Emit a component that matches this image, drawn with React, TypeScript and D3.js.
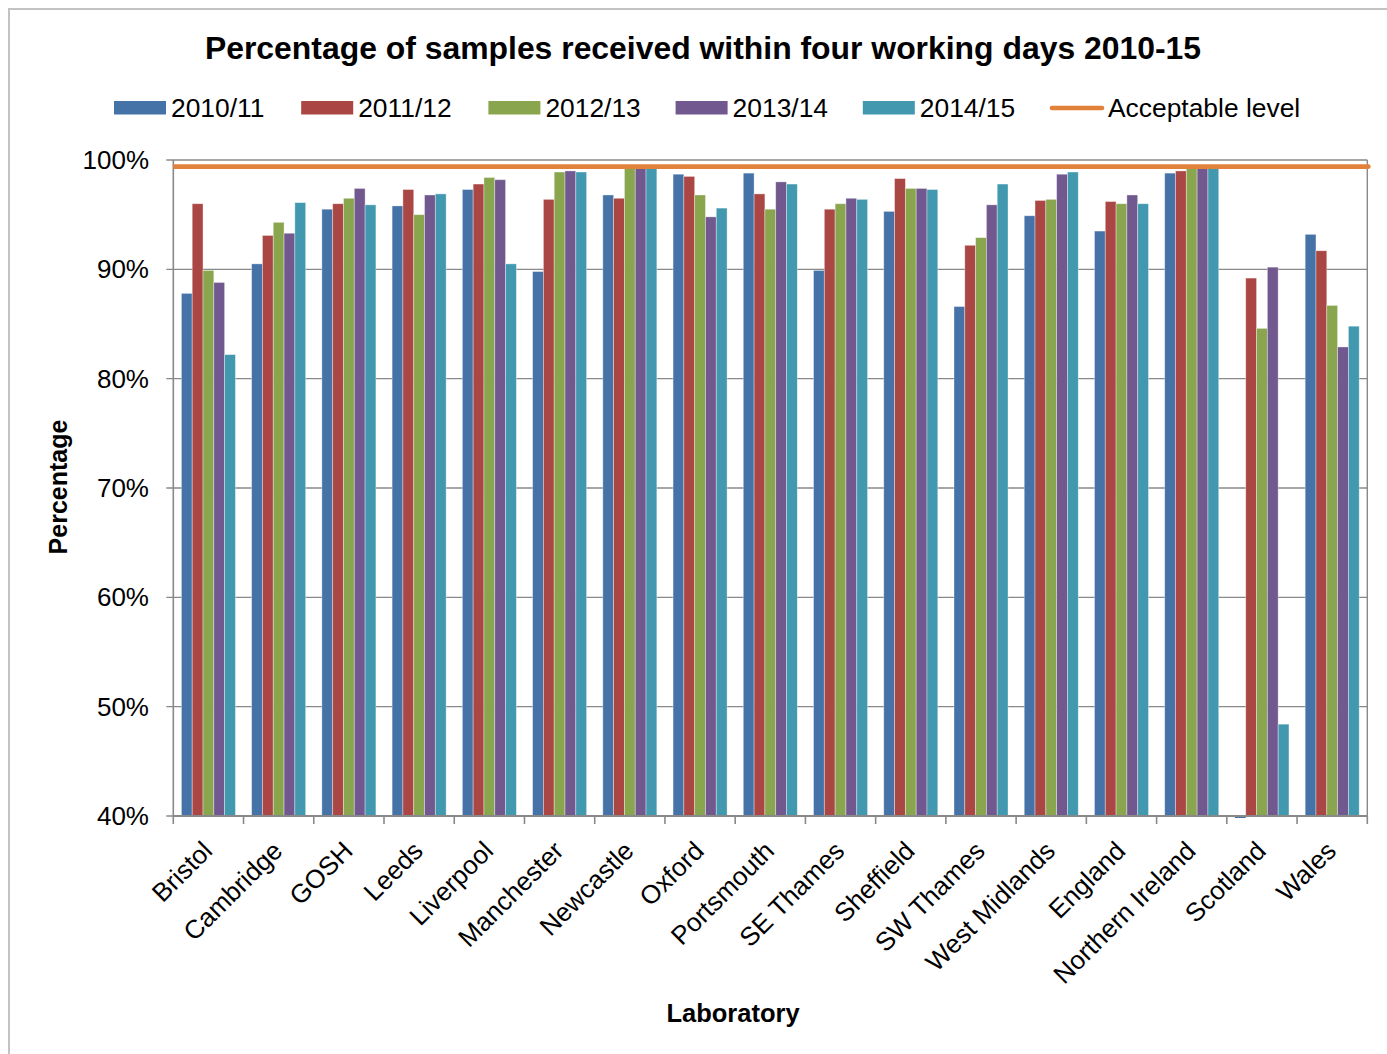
import React from "react";
import * as d3 from "d3";

// Laboratories (x categories)
const categories = [
  "Bristol",
  "Cambridge",
  "GOSH",
  "Leeds",
  "Liverpool",
  "Manchester",
  "Newcastle",
  "Oxford",
  "Portsmouth",
  "SE Thames",
  "Sheffield",
  "SW Thames",
  "West Midlands",
  "England",
  "Northern Ireland",
  "Scotland",
  "Wales",
];

// Financial years (series)
const seriesNames = ["2010/11", "2011/12", "2012/13", "2013/14", "2014/15"];

// Percentage received within four working days, per laboratory
const values2010 = [87.8, 90.5, 95.5, 95.8, 97.3, 89.8, 96.8, 98.7, 98.8, 89.9, 95.3, 86.6, 94.9, 93.5, 98.8, 0, 93.2];
const values2011 = [96.0, 93.1, 96.0, 97.3, 97.8, 96.4, 96.5, 98.5, 96.9, 95.5, 98.3, 92.2, 96.3, 96.2, 99.0, 89.2, 91.7];
const values2012 = [89.9, 94.3, 96.5, 95.0, 98.4, 98.9, 99.5, 96.8, 95.5, 96.0, 97.4, 92.9, 96.4, 96.0, 99.5, 84.6, 86.7];
const values2013 = [88.8, 93.3, 97.4, 96.8, 98.2, 99.0, 99.5, 94.8, 98.0, 96.5, 97.4, 95.9, 98.7, 96.8, 99.5, 90.2, 82.9];
const values2014 = [82.2, 96.1, 95.9, 96.9, 90.5, 98.9, 99.5, 95.6, 97.8, 96.4, 97.3, 97.8, 98.9, 96.0, 99.5, 48.4, 84.8];

const acceptableLevel = 99.4;
const acceptableLabel = "Acceptable level";

const yTicks = [40, 50, 60, 70, 80, 90, 100];

const seriesColors = ["#4572A7", "#AA4643", "#89A54E", "#71588F", "#4198AF"];
const lineColor = "#E2813A";

const FONT = "'Liberation Sans', Arial, sans-serif";
const GRID = "#898989";

export default function App() {
  const W = 1387;
  const H = 1054;
  const left = 173.3;
  const right = 1367.3;
  const top = 160;
  const bottom = 816;

  const seriesValues = [values2010, values2011, values2012, values2013, values2014];

  const x = d3.scaleBand<string>().domain(categories).range([left, right]).padding(0);
  const y = d3.scaleLinear().domain([40, 100]).range([bottom, top]);

  const step = x.step();
  const barW = step / 6.5; // 150% gap width
  const inner = d3
    .scaleBand<string>()
    .domain(seriesNames)
    .range([0.75 * barW, 5.75 * barW])
    .padding(0);

  // legend layout
  const legendX0 = 114;
  const legendStep = 187.2;
  const legendY = 101;

  return (
    <svg
      width={W}
      height={H}
      style={{ position: "absolute", left: 0, top: 0, background: "#fff" }}
      fontFamily={FONT}
    >
      <rect x={9} y={9} width={1420} height={1100} fill="#fff" stroke="#c3c3c3" strokeWidth={2} />

      {/* Title */}
      <text x={703} y={59} textAnchor="middle" fontSize={31.9} fontWeight="bold" fill="#000">
        Percentage of samples received within four working days 2010-15
      </text>

      {/* Legend */}
      {seriesNames.map((name, i) => (
        <g key={name}>
          <rect x={legendX0 + i * legendStep} y={legendY} width={52} height={13.5} fill={seriesColors[i]} />
          <text x={legendX0 + i * legendStep + 57} y={117} fontSize={26.4} fill="#000">
            {name}
          </text>
        </g>
      ))}
      <line
        x1={legendX0 + 5 * legendStep + 2}
        x2={legendX0 + 5 * legendStep + 52}
        y1={108}
        y2={108}
        stroke={lineColor}
        strokeWidth={4.7}
        strokeLinecap="round"
      />
      <text x={legendX0 + 5 * legendStep + 58} y={117} fontSize={26.4} fill="#000">
        {acceptableLabel}
      </text>

      {/* Gridlines */}
      {yTicks.map((t) => (
        <line key={t} x1={left - 7} x2={right} y1={y(t)} y2={y(t)} stroke={GRID} strokeWidth={1.4} />
      ))}
      {/* plot area right edge */}
      <line x1={right} x2={right} y1={top} y2={bottom} stroke={GRID} strokeWidth={1.4} />

      {/* Y tick labels */}
      {yTicks.map((t) => (
        <text key={t} x={149} y={y(t) + 9} textAnchor="end" fontSize={26} fill="#000">
          {`${t}%`}
        </text>
      ))}

      {/* Bars */}
      {seriesNames.map((name, si) =>
        categories.map((cat, ci) => {
          const v = seriesValues[si][ci];
          const bx = (x(cat) as number) + (inner(name) as number);
          const bw = inner.bandwidth();
          if (v < 40) {
            return (
              <rect key={`${name}-${cat}`} x={bx} y={bottom} width={bw} height={2} fill={seriesColors[si]} />
            );
          }
          return (
            <rect
              key={`${name}-${cat}`}
              x={bx}
              y={y(v)}
              width={bw}
              height={bottom - y(v)}
              fill={seriesColors[si]}
              stroke="#ffffff"
              strokeOpacity={0.45}
              strokeWidth={0.8}
            />
          );
        })
      )}

      {/* Axes */}
      <line x1={left} x2={left} y1={top} y2={bottom} stroke={GRID} strokeWidth={1.6} />
      <line x1={left} x2={right} y1={bottom} y2={bottom} stroke={GRID} strokeWidth={1.8} />
      {d3.range(categories.length + 1).map((i) => (
        <line
          key={i}
          x1={left + i * step}
          x2={left + i * step}
          y1={bottom}
          y2={bottom + 8}
          stroke={GRID}
          strokeWidth={1.6}
        />
      ))}

      {/* Acceptable level line */}
      <line
        x1={left}
        x2={right + 1}
        y1={y(acceptableLevel)}
        y2={y(acceptableLevel)}
        stroke={lineColor}
        strokeWidth={4.7}
      />
      <circle cx={right + 1} cy={y(acceptableLevel)} r={2.35} fill={lineColor} />

      {/* Category labels */}
      {categories.map((cat) => {
        const cx = (x(cat) as number) + step / 2;
        return (
          <text
            key={cat}
            transform={`translate(${cx - 1},846) rotate(-45)`}
            textAnchor="end"
            dy="0.35em"
            fontSize={26}
            fill="#000"
          >
            {cat}
          </text>
        );
      })}

      {/* Axis titles */}
      <text x={733} y={1022} textAnchor="middle" fontSize={25.5} fontWeight="bold" fill="#000">
        Laboratory
      </text>
      <text
        transform={`translate(67,487) rotate(-90)`}
        textAnchor="middle"
        fontSize={25}
        fontWeight="bold"
        fill="#000"
      >
        Percentage
      </text>
    </svg>
  );
}
